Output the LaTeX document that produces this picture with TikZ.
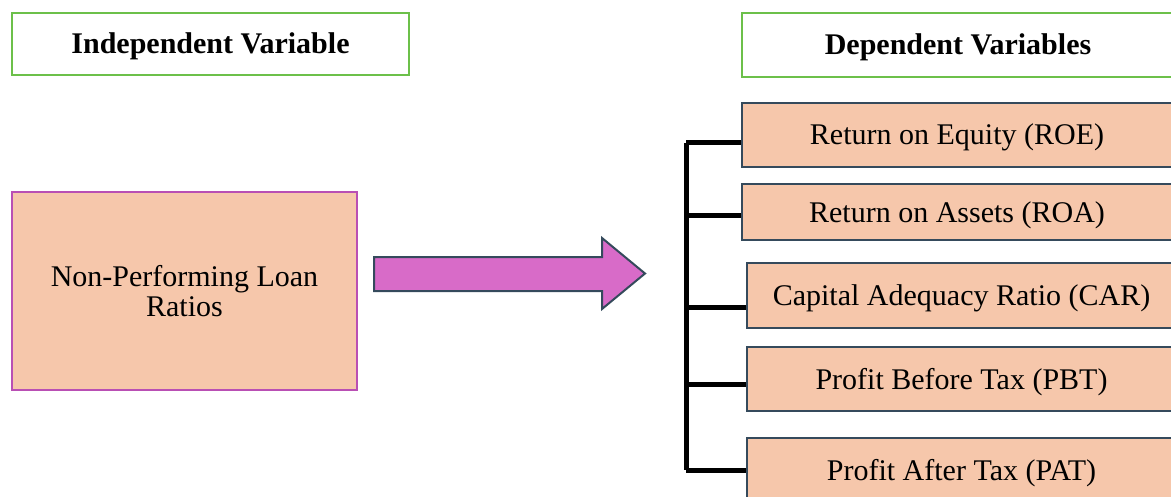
\documentclass[tikz,border=0pt]{standalone}
\usepackage{fontspec}
\setmainfont{Liberation Serif}
\usepackage{tikz}
\usetikzlibrary{
  arrows.meta,
  positioning,
  calc,
}
\definecolor{peach}{HTML}{F6C7AB}
\definecolor{hdrgreen}{HTML}{6CC04A}
\definecolor{nplpurple}{HTML}{B94FB4}
\definecolor{boxslate}{HTML}{354A5C}
\definecolor{arrowpink}{HTML}{D86BC8}

\begin{document}
\begin{tikzpicture}[
  x=0.5pt, y=-0.5pt,
  txt/.style={font=\fontsize{15}{15}\selectfont, align=center, inner sep=0pt},
  oneline/.style={txt, text height=10pt, text depth=0pt},
  header/.style={oneline, draw=hdrgreen, line width=1.3pt, fill=white,
                 font=\fontsize{15}{15}\selectfont\bfseries},
  ratiobox/.style={oneline, draw=boxslate, line width=1pt, fill=peach, minimum width=215pt},
  spine/.style={line width=2.5pt, black},
]
  \useasboundingbox (0,0) rectangle (1171,497);

  % Headers
  \node[header, minimum width=198.5pt, minimum height=31pt] (indep) at (210.5,44) {Independent Variable};
  \node[header, minimum width=216pt, minimum height=32pt] (dep) at (958,45) {Dependent Variables};

  % Independent variable
  \node[txt, draw=nplpurple, line width=1pt, fill=peach,
        minimum width=172.5pt, minimum height=99pt] (npl) at (184.5,291)
        {Non-Performing Loan\\Ratios};

  % Big arrow
  \draw[fill=arrowpink, draw=boxslate, line width=1pt, line join=miter]
    (374,257) -- (602,257) -- (602,238) -- (645,273.5)
    -- (602,309) -- (602,291) -- (374,291) -- cycle;

  % Dependent variables
  \node[ratiobox, minimum height=32pt] (roe) at (957,135) {Return on Equity (ROE)};
  \node[ratiobox, minimum height=28pt] (roa) at (957,212) {Return on Assets (ROA)};
  \node[ratiobox, minimum height=32.5pt] (car) at (961.5,295.5) {Capital Adequacy Ratio (CAR)};
  \node[ratiobox, minimum height=32pt] (pbt) at (961.5,379) {Profit Before Tax (PBT)};
  \node[ratiobox, minimum height=32pt] (pat) at (961.5,470) {Profit After Tax (PAT)};

  % Bracket
  \coordinate (t1) at (686,143);
  \coordinate (t2) at (686,216);
  \coordinate (t3) at (686,307);
  \coordinate (t4) at (686,384);
  \coordinate (t5) at (686,470);
  \draw[spine, line cap=butt] (t1) -- (t5);
  \draw[spine] (t1) -- (t1 -| roe.west);
  \draw[spine] (t2) -- (t2 -| roa.west);
  \draw[spine] (t3) -- (t3 -| car.west);
  \draw[spine] (t4) -- (t4 -| pbt.west);
  \draw[spine] (t5) -- (t5 -| pat.west);

\end{tikzpicture}
\end{document}
